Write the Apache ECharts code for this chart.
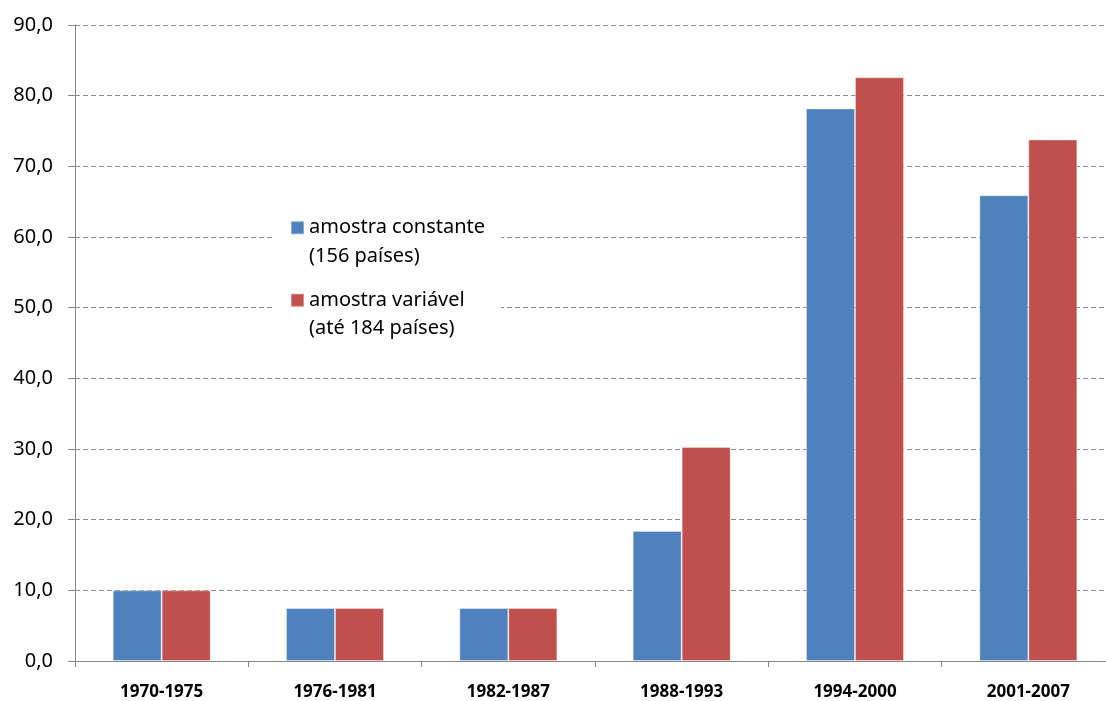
<!DOCTYPE html>
<html>
<head>
<meta charset="utf-8">
<script src="https://cdn.jsdelivr.net/npm/echarts@6/dist/echarts.min.js"></script>
<style>
  html, body { margin: 0; padding: 0; background: #fff; overflow: hidden; }
  /* plot runs a little past the right edge of the window, as in the reference */
  #chart { width: 1115px; height: 701px; }
</style>
</head>
<body>
<div id="chart"></div>
<script>
// periods on the x axis
const periods = ['1970-1975', '1976-1981', '1982-1987', '1988-1993', '1994-2000', '2001-2007'];

// series names (legend)
const nameConst = 'amostra constante\n(156 países)';
const nameVar = 'amostra variável\n(até 184 países)';

// values
const constSample = [10.0, 7.5, 7.5, 18.4, 78.2, 65.9];
const varSample = [10.0, 7.5, 7.5, 30.3, 82.6, 73.8];

const chart = echarts.init(document.getElementById('chart'));

const option = {
  animation: false,
  backgroundColor: '#fff',
  textStyle: { fontFamily: 'Noto Sans' },
  grid: { left: 75, right: 0, top: 25, bottom: 39 },
  legend: {
    orient: 'vertical',
    left: 272,
    top: 185,
    padding: [0, 16, 0, 18],
    backgroundColor: '#fff',
    itemWidth: 13,
    itemHeight: 13,
    itemGap: -13,
    icon: 'rect',
    // blank first line so the square sits beside the first text line
    formatter: (name) => '\n' + name,
    textStyle: { fontSize: 20, lineHeight: 28.5, color: '#000' },
    data: [nameConst, nameVar],
  },
  xAxis: {
    type: 'category',
    data: periods,
    axisLine: { lineStyle: { color: '#868686', width: 1 } },
    axisTick: { show: true, length: 6, lineStyle: { color: '#868686' } },
    axisLabel: { fontSize: 17, fontWeight: 'bold', color: '#000', margin: 23 },
  },
  yAxis: {
    type: 'value',
    min: 0,
    max: 90,
    interval: 10,
    axisLine: { show: true, lineStyle: { color: '#868686', width: 1 } },
    axisTick: { show: true, length: 7, lineStyle: { color: '#868686' } },
    axisLabel: {
      fontSize: 20,
      color: '#000',
      margin: 22,
      formatter: (v) => v.toFixed(1).replace('.', ','),
    },
    splitLine: {
      lineStyle: { color: '#8c8c8c', type: [5, 3], width: 1 },
    },
  },
  series: [
    {
      name: nameConst,
      type: 'bar',
      data: constSample,
      barWidth: 49,
      barGap: '0%',
      itemStyle: { color: '#4F81BD', borderColor: 'rgba(255,255,255,0.35)', borderWidth: 1 },
    },
    {
      name: nameVar,
      type: 'bar',
      data: varSample,
      barWidth: 49,
      barGap: '0%',
      itemStyle: { color: '#C0504D', borderColor: 'rgba(255,255,255,0.35)', borderWidth: 1 },
    },
  ],
};

chart.setOption(option);
</script>
</body>
</html>
